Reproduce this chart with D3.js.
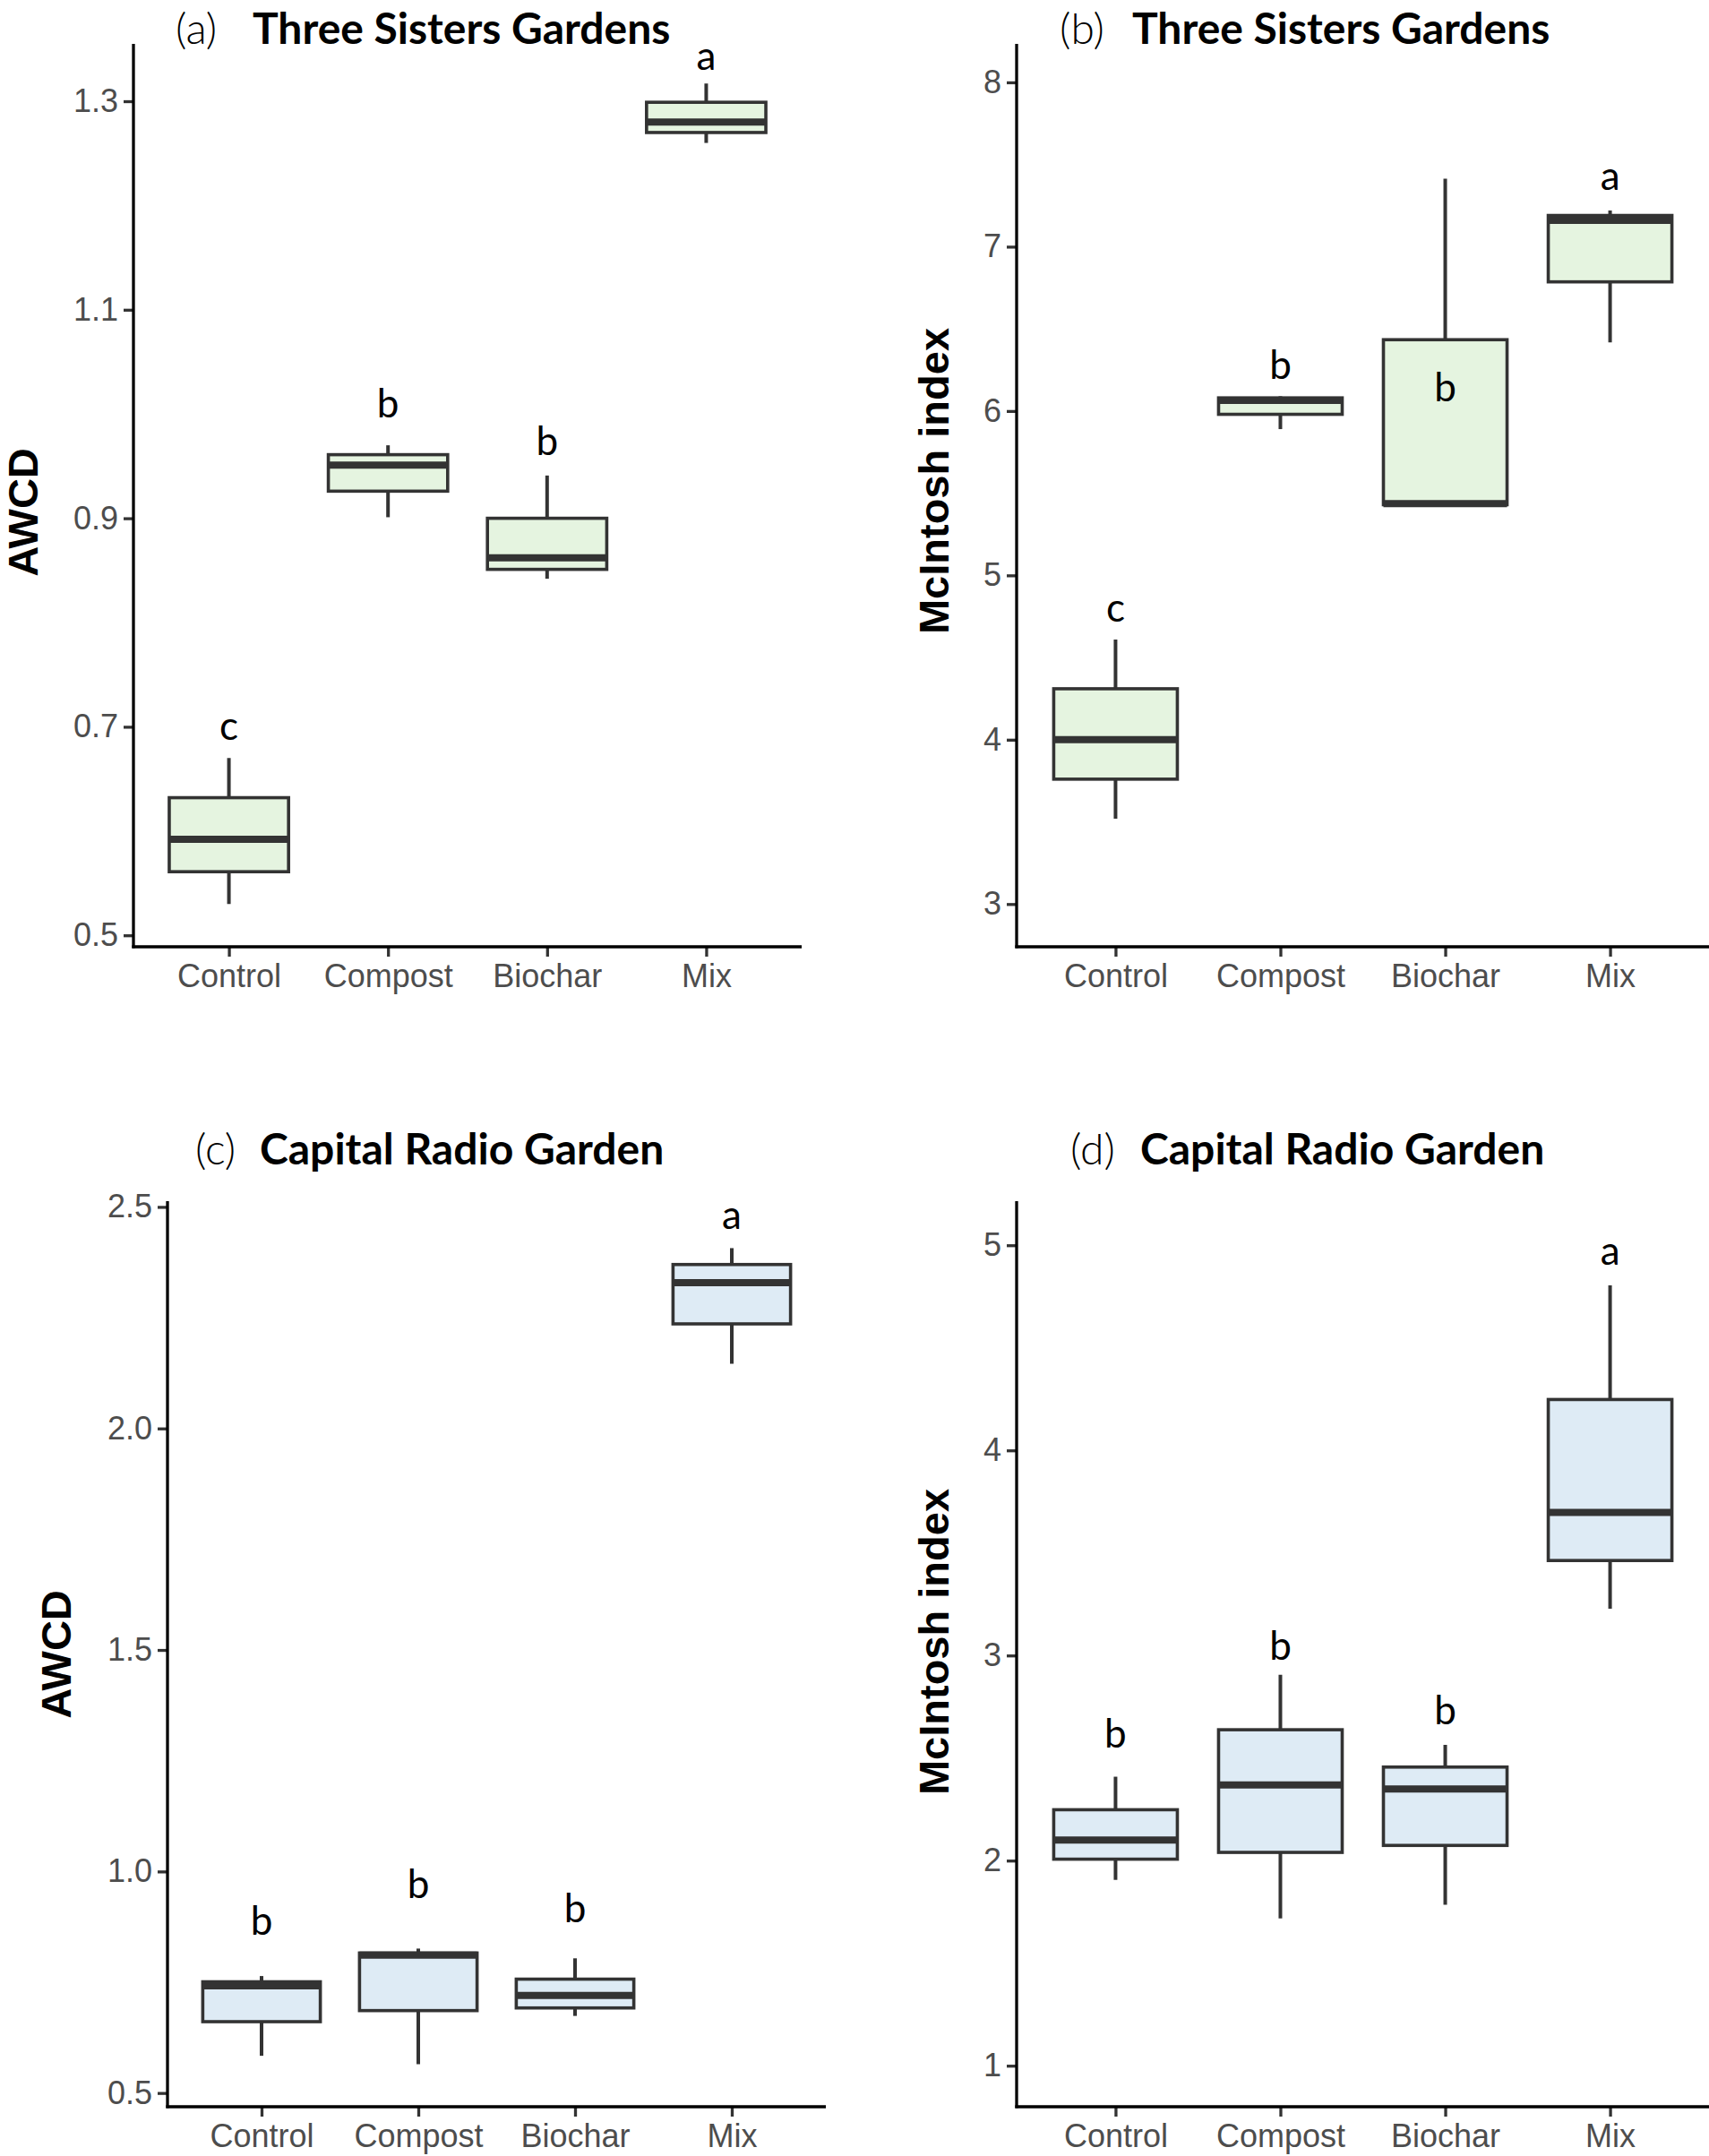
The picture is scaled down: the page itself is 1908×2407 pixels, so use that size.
<!DOCTYPE html>
<html>
<head>
<meta charset="utf-8">
<script src="https://cdnjs.cloudflare.com/ajax/libs/d3/7.8.5/d3.min.js"></script>
<style>
  body { margin: 0; background: #fff; }
  svg { display: block; }
</style>
</head>
<body>
<div id="chart"></div>
<script>
// categories on the x axis of every panel
var categories = ["Control", "Compost", "Biochar", "Mix"];

// box summaries per category: [lower whisker, Q1, median, Q3, upper whisker]
var awcdThreeSisters = [
    [0.530, 0.561, 0.592, 0.632, 0.670],
    [0.901, 0.926, 0.951, 0.961, 0.970],
    [0.842, 0.851, 0.862, 0.900, 0.941],
    [1.260, 1.270, 1.280, 1.299, 1.317]
];
var mcintoshThreeSisters = [
    [3.52, 3.76, 4.00, 4.31, 4.61],
    [5.89, 5.98, 6.065, 6.08, 6.09],
    [5.43, 5.43, 5.437, 6.434, 7.414],
    [6.417, 6.786, 7.16, 7.19, 7.22]
];
var awcdCapitalRadio = [
    [0.584, 0.661, 0.742, 0.751, 0.764],
    [0.565, 0.686, 0.811, 0.816, 0.826],
    [0.674, 0.692, 0.720, 0.757, 0.804],
    [2.146, 2.236, 2.329, 2.370, 2.407]
];
var mcintoshCapitalRadio = [
    [1.906, 2.007, 2.10, 2.248, 2.409],
    [1.718, 2.04, 2.369, 2.638, 2.906],
    [1.785, 2.074, 2.349, 2.456, 2.564],
    [3.228, 3.463, 3.698, 4.248, 4.805]
];

// significance letters and the value they sit at
var lettersThreeSistersAwcd = ["c", "b", "b", "a"];
var letterYThreeSistersAwcd = [0.702, 1.011, 0.975, 1.345];
var lettersThreeSistersMcintosh = ["c", "b", "b", "a"];
var letterYThreeSistersMcintosh = [4.81, 6.29, 6.15, 7.44];
var lettersCapitalRadioAwcd = ["b", "b", "b", "a"];
var letterYCapitalRadioAwcd = [0.891, 0.974, 0.919, 2.484];
var lettersCapitalRadioMcintosh = ["b", "b", "b", "a"];
var letterYCapitalRadioMcintosh = [2.624, 3.054, 2.738, 4.98];

// tick values
var ticksThreeSistersAwcd = [0.5, 0.7, 0.9, 1.1, 1.3];
var ticksThreeSistersMcintosh = [3, 4, 5, 6, 7, 8];
var ticksCapitalRadioAwcd = [0.5, 1.0, 1.5, 2.0, 2.5];
var ticksCapitalRadioMcintosh = [1, 2, 3, 4, 5];

var W = 1908, H = 2407;
var GREEN = "#e5f4e0", BLUE = "#deebf5";
var INK = "#333333";

var panels = [
    { tag: "(a)", title: "Three Sisters Gardens", ylab: "AWCD", boxes: awcdThreeSisters,
      letters: lettersThreeSistersAwcd, letterY: letterYThreeSistersAwcd, ticks: ticksThreeSistersAwcd, fmt: ".1f",
      domain: [0.489, 1.355], fill: GREEN,
      left: 149, right: 895, top: 49, bottom: 1057,
      tagX: 196, titleX: 282, titleY: 49, ylabX: 25, ylabY: 572 },
    { tag: "(b)", title: "Three Sisters Gardens", ylab: "McIntosh index", boxes: mcintoshThreeSisters,
      letters: lettersThreeSistersMcintosh, letterY: letterYThreeSistersMcintosh, ticks: ticksThreeSistersMcintosh, fmt: "d",
      domain: [2.74, 8.234], fill: GREEN,
      left: 1135, right: 1908, top: 49, bottom: 1057,
      tagX: 1183, titleX: 1264, titleY: 49, ylabX: 1042, ylabY: 537 },
    { tag: "(c)", title: "Capital Radio Garden", ylab: "AWCD", boxes: awcdCapitalRadio,
      letters: lettersCapitalRadioAwcd, letterY: letterYCapitalRadioAwcd, ticks: ticksCapitalRadioAwcd, fmt: ".1f",
      domain: [0.469, 2.513], fill: BLUE,
      left: 187, right: 922, top: 1341, bottom: 2352,
      tagX: 218, titleX: 290, titleY: 1300, ylabX: 62, ylabY: 1847 },
    { tag: "(d)", title: "Capital Radio Garden", ylab: "McIntosh index", boxes: mcintoshCapitalRadio,
      letters: lettersCapitalRadioMcintosh, letterY: letterYCapitalRadioMcintosh, ticks: ticksCapitalRadioMcintosh, fmt: "d",
      domain: [0.80, 5.215], fill: BLUE,
      left: 1135, right: 1908, top: 1341, bottom: 2352,
      tagX: 1195, titleX: 1273, titleY: 1300, ylabX: 1042, ylabY: 1833 }
];

var svg = d3.select("#chart").append("svg")
    .attr("width", W)
    .attr("height", H);

svg.append("rect").attr("width", W).attr("height", H).attr("fill", "#fff");

panels.forEach(function (p) {
    var g = svg.append("g");

    var x = d3.scalePoint()
        .domain(categories)
        .range([p.left, p.right])
        .padding(0.6);
    var y = d3.scaleLinear()
        .domain(p.domain)
        .range([p.bottom, p.top]);
    var bw = x.step() * 0.75;

    // axes
    var yAxis = g.append("g")
        .attr("transform", "translate(" + p.left + ",0)")
        .call(d3.axisLeft(y).tickValues(p.ticks).tickFormat(d3.format(p.fmt)).tickSize(11).tickPadding(6));
    var xAxis = g.append("g")
        .attr("transform", "translate(0," + p.bottom + ")")
        .call(d3.axisBottom(x).tickSize(11).tickPadding(8));

    [yAxis, xAxis].forEach(function (ax) {
        ax.select(".domain").remove();
        ax.selectAll(".tick line").attr("stroke", INK).attr("stroke-width", 3.3);
        ax.selectAll(".tick text")
            .attr("fill", "#4d4d4d")
            .style("font-family", "'Liberation Sans', Arial, sans-serif")
            .style("font-size", "36px");
    });

    // axis lines
    g.append("line")
        .attr("x1", p.left).attr("x2", p.left)
        .attr("y1", p.top).attr("y2", p.bottom + 1.6)
        .attr("stroke", "#000").attr("stroke-width", 3.3);
    g.append("line")
        .attr("x1", p.left - 1.6).attr("x2", p.right)
        .attr("y1", p.bottom).attr("y2", p.bottom)
        .attr("stroke", "#000").attr("stroke-width", 3.3);

    // boxes
    var box = g.selectAll(".box")
        .data(p.boxes.map(function (b, i) { return { cat: categories[i], v: b }; }))
        .enter().append("g")
        .attr("class", "box");

    box.append("line")
        .attr("x1", function (d) { return x(d.cat); })
        .attr("x2", function (d) { return x(d.cat); })
        .attr("y1", function (d) { return y(d.v[0]); })
        .attr("y2", function (d) { return y(d.v[4]); })
        .attr("stroke", INK).attr("stroke-width", 4);

    box.append("rect")
        .attr("x", function (d) { return x(d.cat) - bw / 2; })
        .attr("width", bw)
        .attr("y", function (d) { return y(d.v[3]); })
        .attr("height", function (d) { return y(d.v[1]) - y(d.v[3]); })
        .attr("fill", p.fill)
        .attr("stroke", INK).attr("stroke-width", 3.6);

    box.append("line")
        .attr("x1", function (d) { return x(d.cat) - bw / 2; })
        .attr("x2", function (d) { return x(d.cat) + bw / 2; })
        .attr("y1", function (d) { return y(d.v[2]); })
        .attr("y2", function (d) { return y(d.v[2]); })
        .attr("stroke", INK).attr("stroke-width", 8);

    // letters
    g.selectAll(".letter")
        .data(p.letters)
        .enter().append("text")
        .attr("x", function (d, i) { return x(categories[i]); })
        .attr("y", function (d, i) { return y(p.letterY[i]); })
        .attr("text-anchor", "middle")
        .attr("dominant-baseline", "central")
        .style("font-family", "Lato, sans-serif")
        .style("font-size", "44px")
        .attr("fill", "#000")
        .text(function (d) { return d; });

    // title: light tag then bold name
    g.append("text")
        .attr("x", p.tagX)
        .attr("y", p.titleY)
        .style("font-family", "Lato, sans-serif")
        .style("font-size", "48px")
        .style("font-weight", "300")
        .attr("fill", "#000")
        .text(p.tag);
    g.append("text")
        .attr("x", p.titleX)
        .attr("y", p.titleY)
        .style("font-family", "Lato, sans-serif")
        .style("font-size", "48px")
        .style("font-weight", "bold")
        .attr("fill", "#000")
        .text(p.title);

    // y label
    g.append("text")
        .attr("transform", "translate(" + p.ylabX + "," + p.ylabY + ") rotate(-90)")
        .attr("text-anchor", "middle")
        .attr("dominant-baseline", "central")
        .style("font-family", "'Liberation Sans', Arial, sans-serif")
        .style("font-weight", "bold")
        .style("font-size", "47px")
        .attr("fill", "#000")
        .text(p.ylab);
});
</script>
</body>
</html>
